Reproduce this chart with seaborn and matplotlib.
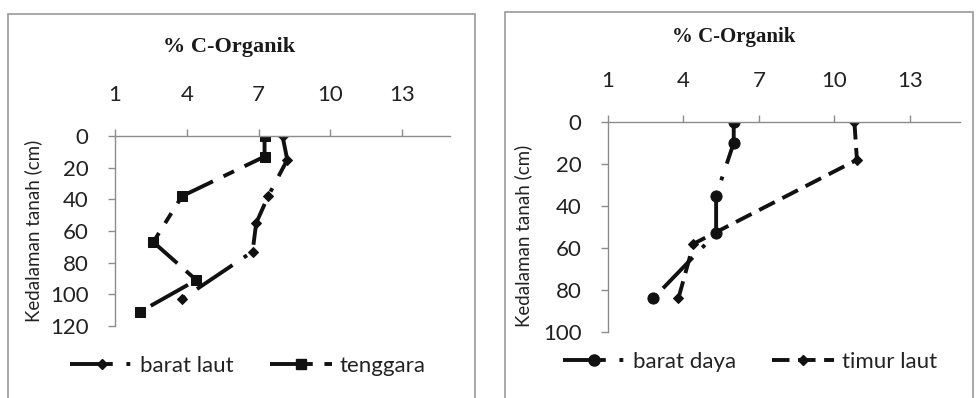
import matplotlib
matplotlib.use("Agg")
import matplotlib.pyplot as plt
import seaborn as sns
import pandas as pd
from matplotlib.lines import Line2D
from matplotlib.patches import Rectangle

# ---- data ----
bl_depth = [0, 15, 38, 55, 73, 103]
bl_c = [8.0, 8.2, 7.4, 6.9, 6.75, 3.8]          # barat laut
tg_depth = [0, 13, 38, 67, 91, 111]
tg_c = [7.25, 7.25, 3.8, 2.6, 4.4, 2.05]        # tenggara
bd_depth = [0, 10, 35, 53, 84]
bd_c = [6.0, 6.0, 5.3, 5.3, 2.8]                # barat daya
tl_depth = [0, 18, 58, 84]
tl_c = [10.8, 10.9, 4.4, 3.8]                   # timur laut

x_ticks = [1, 4, 7, 10, 13]
y_ticks_left = [0, 20, 40, 60, 80, 100, 120]
y_ticks_right = [0, 20, 40, 60, 80, 100]
title = "% C-Organik"
ylabel = "Kedalaman tanah (cm)"

sns.set_theme(style="white")
plt.rcParams["font.family"] = ["Lato", "DejaVu Sans"]

W, H = 977, 398
fig = plt.figure(figsize=(W / 100, H / 100), dpi=100)

def fx(px):
    return px / W

def fy(py):
    return 1 - py / H

# panel borders
for x0, x1, y0 in [(8, 475, 14), (505, 973, 12)]:
    fig.patches.append(Rectangle((fx(x0), fy(H + 5)), fx(x1) - fx(x0), fy(y0) - fy(H + 5),
                                 transform=fig.transFigure, fill=False,
                                 edgecolor="#9a9a9a", linewidth=1.2))

ax1 = fig.add_axes([fx(115), fy(326), fx(450) - fx(115), fy(136) - fy(326)])
ax2 = fig.add_axes([fx(608), fy(332), fx(960) - fx(608), fy(122) - fy(332)])

LW = 2.8
dashdot = (0, (11, 3.5, 1.0, 3.5))
longshort = (0, (11, 3, 3, 3))
dashed = (0, (4.5, 2.2))
col = "#111111"
tcol = "#222222"

def draw(ax, xs, ys, ls, marker, ms):
    df = pd.DataFrame({"c": xs, "d": ys})
    sns.lineplot(data=df, x="c", y="d", sort=False, estimator=None, ax=ax,
                 color=col, linewidth=LW, linestyle=ls, marker=marker,
                 markersize=ms, markeredgecolor=col, markerfacecolor=col)

draw(ax1, bl_c, bl_depth, dashdot, "D", 5.5)
draw(ax1, tg_c, tg_depth, longshort, "s", 7.5)
draw(ax2, bd_c, bd_depth, dashdot, "o", 8)
draw(ax2, tl_c, tl_depth, dashed, "D", 5.5)

for ax, ymax, yt in [(ax1, 120, y_ticks_left), (ax2, 100, y_ticks_right)]:
    ax.set_xlim(1, 15)
    ax.set_ylim(ymax, 0)
    ax.set_xticks(x_ticks)
    ax.set_yticks(yt)
    ax.xaxis.tick_top()
    ax.set_xlabel("")
    for s in ["right", "bottom"]:
        ax.spines[s].set_visible(False)
    for s in ["left", "top"]:
        ax.spines[s].set_color("#8c8c8c")
        ax.spines[s].set_linewidth(1.0)
    ax.tick_params(axis="x", top=True, bottom=False, direction="out", length=5,
                   width=1, color="#8c8c8c", pad=17, labelsize=16, labelcolor=tcol)
    ax.tick_params(axis="y", left=True, direction="out", length=5, width=1,
                   color="#8c8c8c", pad=14, labelsize=16, labelcolor=tcol)
    ax.set_facecolor("none")
    ax.set_ylabel(ylabel, fontsize=13.5, color=tcol)

ax1.yaxis.set_label_coords(-0.218, 0.5)
ax2.yaxis.set_label_coords(-0.215, 0.46)

fig.text(fx(229), fy(47), title, ha="center", va="center", fontsize=16,
         fontweight="bold", family=["Liberation Serif"], color="#1a1a1a")
fig.text(fx(734), fy(37), title, ha="center", va="center", fontsize=15,
         fontweight="bold", family=["Liberation Serif"], color="#1a1a1a")

def handle(ls, marker, ms, label):
    return Line2D([0], [0], color=col, linewidth=LW, linestyle=ls, marker=marker,
                  markersize=ms, markeredgecolor=col, markerfacecolor=col, label=label)

leg1 = [handle(dashdot, "D", 5.5, "barat laut"), handle(longshort, "s", 7.5, "tenggara")]
leg2 = [handle(dashdot, "o", 8, "barat daya"), handle(dashed, "D", 5.5, "timur laut")]

fig.legend(handles=leg1, loc="center", bbox_to_anchor=(fx(248), fy(366)), ncol=2,
           frameon=False, fontsize=16, handlelength=2.8, handletextpad=0.35,
           columnspacing=1.6, labelcolor=tcol)
fig.legend(handles=leg2, loc="center", bbox_to_anchor=(fx(750), fy(362)), ncol=2,
           frameon=False, fontsize=16, handlelength=2.8, handletextpad=0.35,
           columnspacing=1.6, labelcolor=tcol)

fig.savefig("out.png", dpi=100, facecolor="white")
